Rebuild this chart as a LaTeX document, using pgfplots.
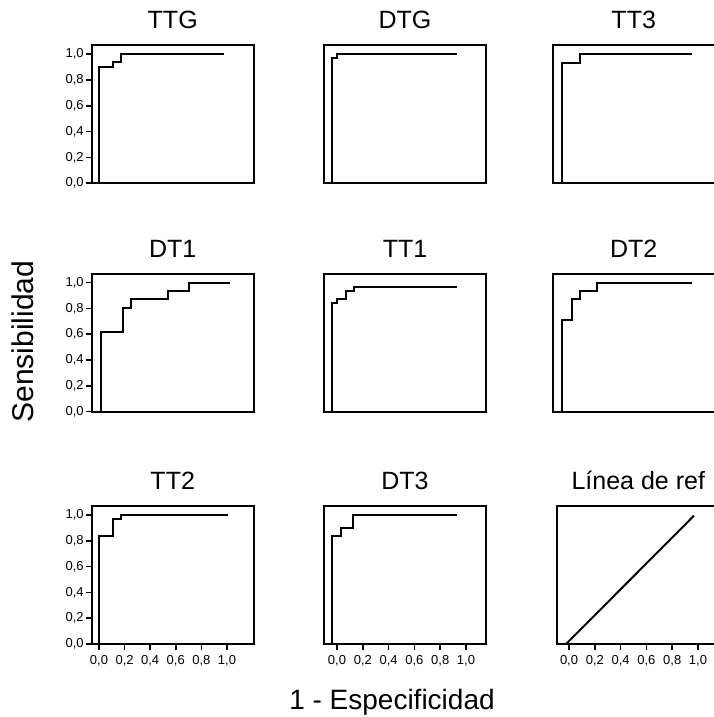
\documentclass[border=0pt]{standalone}
\usepackage{fontspec}
\setmainfont{Liberation Sans}
\usepackage{pgfplots}
\pgfplotsset{compat=1.18}

\pgfplotsset{
  every axis/.append style={line width=2pt},
  rocpanel/.style={
    scale only axis, width=162pt, height=137.8pt,
    ymin=0, ymax=1.068,
    axis line style={line width=2pt, black},
    every axis plot post/.append style={line width=2pt, black, mark=none},
    tick style={line width=1.6pt, black},
    tick align=outside, major tick length=6pt,
    xtick=\empty, ytick=\empty,
    title style={at={(0.5,1)}, anchor=base, yshift=10.5pt, font=\fontsize{25}{29}\selectfont, inner sep=0pt},
    anchor=south west,
    clip=false,
  },
  yticks/.style={
    ytick={0,0.2,0.4,0.6,0.8,1},
    yticklabels={{0,0},{0,2},{0,4},{0,6},{0,8},{1,0}},
    ytick pos=left,
    yticklabel style={font=\fontsize{13}{15}\selectfont, inner sep=1pt},
  },
  xticks/.style={
    xtick={0,0.2,0.4,0.6,0.8,1},
    xticklabels={{0,0},{0,2},{0,4},{0,6},{0,8},{1,0}},
    xtick pos=bottom,
    xticklabel style={font=\fontsize{13}{15}\selectfont, inner sep=1pt, yshift=-3.5pt},
  },
}

\begin{document}
\begin{tikzpicture}
\useasboundingbox (0,0) rectangle (713pt,717pt);

% ---- Row 1 ----
\begin{axis}[rocpanel, yticks, at={(91.7pt,533.7pt)}, xmin=-0.057, xmax=1.209, title={TTG}]
\addplot coordinates {(0,0) (0,0.904) (0.107,0.904) (0.107,0.938) (0.17,0.938) (0.17,1.0) (0.977,1.0)};
\end{axis}
\begin{axis}[rocpanel, at={(324pt,533.7pt)}, xmin=-0.101, xmax=1.155, title={DTG}]
\addplot coordinates {(-0.036,0) (-0.036,0.969) (-0.003,0.969) (-0.003,1.0) (0.933,1.0)};
\end{axis}
\begin{axis}[rocpanel, at={(552.7pt,533.7pt)}, xmin=-0.126, xmax=1.129, title={TT3}]
\addplot coordinates {(-0.052,0) (-0.052,0.935) (0.085,0.935) (0.085,1.0) (0.951,1.0)};
\end{axis}

% ---- Row 2 ----
\begin{axis}[rocpanel, yticks, at={(91.7pt,305.3pt)}, xmin=-0.057, xmax=1.209, title={DT1}]
\addplot coordinates {(0.016,0) (0.016,0.615) (0.185,0.615) (0.185,0.806) (0.248,0.806) (0.248,0.871) (0.54,0.871) (0.54,0.936) (0.70,0.936) (0.70,1.0) (1.02,1.0)};
\end{axis}
\begin{axis}[rocpanel, at={(324pt,305.3pt)}, xmin=-0.101, xmax=1.155, title={TT1}]
\addplot coordinates {(-0.036,0) (-0.036,0.840) (-0.003,0.840) (-0.003,0.871) (0.067,0.871) (0.067,0.936) (0.13,0.936) (0.13,0.969) (0.933,0.969)};
\end{axis}
\begin{axis}[rocpanel, at={(552.7pt,305.3pt)}, xmin=-0.126, xmax=1.129, title={DT2}]
\addplot coordinates {(-0.052,0) (-0.052,0.711) (0.021,0.711) (0.021,0.871) (0.085,0.871) (0.085,0.936) (0.215,0.936) (0.215,1.0) (0.951,1.0)};
\end{axis}

% ---- Row 3 ----
\begin{axis}[rocpanel, yticks, xticks, at={(91.7pt,73pt)}, xmin=-0.057, xmax=1.209, title={TT2}]
\addplot coordinates {(0,0) (0,0.837) (0.107,0.837) (0.107,0.967) (0.17,0.967) (0.17,1.0) (1.01,1.0)};
\end{axis}
\begin{axis}[rocpanel, xticks, at={(324pt,73pt)}, xmin=-0.101, xmax=1.155, title={DT3}]
\addplot coordinates {(-0.036,0) (-0.036,0.837) (0.028,0.837) (0.028,0.902) (0.127,0.902) (0.127,1.0) (0.933,1.0)};
\end{axis}
\begin{axis}[rocpanel, xticks, at={(557.3pt,73pt)}, xmin=-0.091, xmax=1.165, title={Línea de ref}]
\addplot coordinates {(-0.018,0.005) (0.969,0.995)};
\end{axis}

\node[rotate=90, anchor=base, font=\fontsize{30}{34}\selectfont] at (33pt,375.5pt) {Sensibilidad};
\node[anchor=base, font=\fontsize{28}{34}\selectfont] at (392pt,8pt) {1 - Especificidad};
\end{tikzpicture}
\end{document}
